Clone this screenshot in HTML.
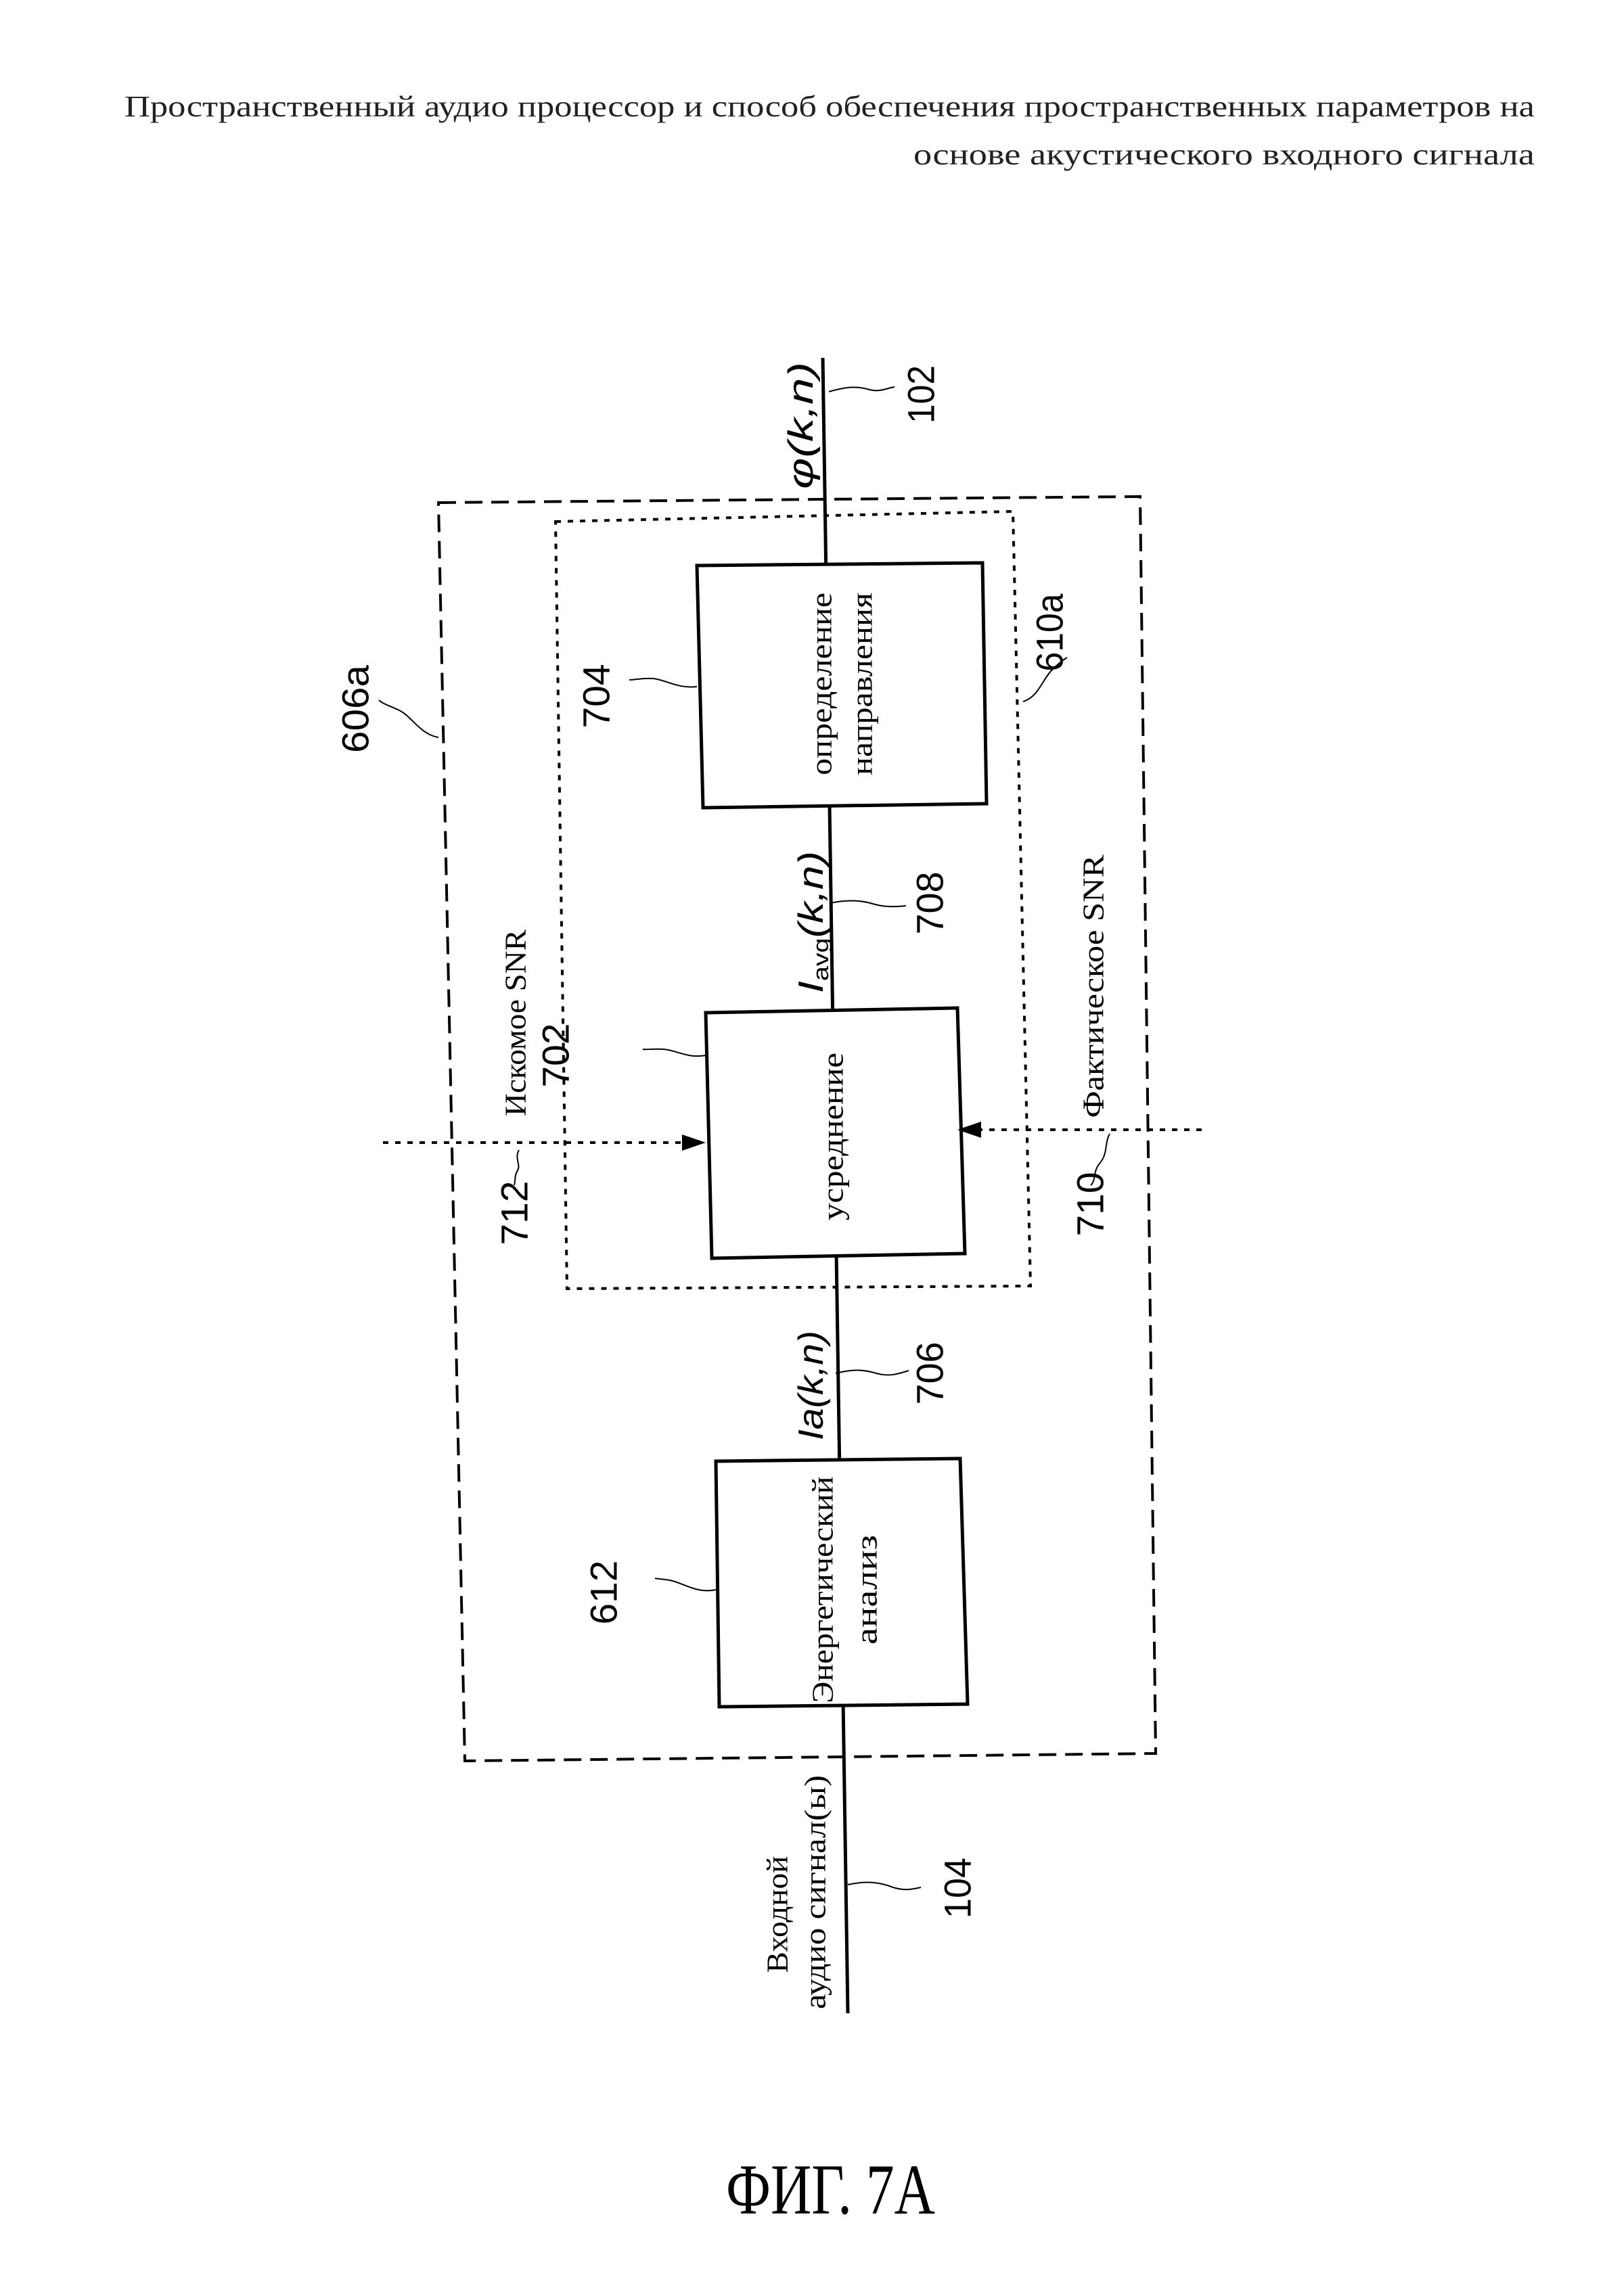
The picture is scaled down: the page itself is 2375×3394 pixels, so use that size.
<!DOCTYPE html>
<html><head><meta charset="utf-8"><style>
html,body{margin:0;padding:0;background:#fff;}
svg{display:block;}
.s{font-family:"Liberation Serif","DejaVu Serif",serif;}
.n{font-family:"Liberation Sans","DejaVu Sans",sans-serif;}
</style></head><body>
<svg width="2375" height="3394" viewBox="0 0 2375 3394" xmlns="http://www.w3.org/2000/svg">
<rect width="2375" height="3394" fill="#fff"/>
<!-- header -->
<text class="s" x="184" y="172" font-size="44" fill="#222" textLength="2084" lengthAdjust="spacingAndGlyphs">Пространственный аудио процессор и способ обеспечения пространственных параметров на</text>
<text class="s" x="1350" y="243" font-size="44" fill="#222" textLength="918" lengthAdjust="spacingAndGlyphs">основе акустического входного сигнала</text>

<!-- main line -->
<line x1="1216" y1="529" x2="1253" y2="2976" stroke="#000" stroke-width="5"/>

<!-- outer dashed box -->
<polygon points="648,743 1685,734 1708,2592 687,2603" fill="none" stroke="#000" stroke-width="4" stroke-dasharray="26,13"/>
<!-- inner dotted box -->
<polygon points="821,771 1497,756 1523,1901 838,1905" fill="none" stroke="#000" stroke-width="4" stroke-dasharray="8,10"/>

<!-- blocks -->
<polygon points="1030,836 1452,832 1458,1188 1039,1194" fill="#fff" stroke="#000" stroke-width="5"/>
<polygon points="1043,1497 1415,1490 1426,1853 1052,1860" fill="#fff" stroke="#000" stroke-width="5"/>
<polygon points="1058,2160 1419,2156 1430,2519 1063,2523" fill="#fff" stroke="#000" stroke-width="5"/>

<!-- dotted input arrows -->
<line x1="566" y1="1689" x2="1010" y2="1689" stroke="#000" stroke-width="4" stroke-dasharray="8,10"/>
<polygon points="1043,1689 1008,1677 1008,1701" fill="#000"/>
<line x1="1776" y1="1670" x2="1448" y2="1670" stroke="#000" stroke-width="4" stroke-dasharray="8,10"/>
<polygon points="1415,1670 1450,1658 1450,1682" fill="#000"/>

<!-- leader squiggles -->
<g fill="none" stroke="#000" stroke-width="2">
<path d="M648,1090 C620,1085 610,1060 590,1050 C575,1043 565,1040 560,1035"/>
<path d="M1030,1015 C1000,1018 985,1005 965,1003 C950,1002 940,1005 930,1005"/>
<path d="M1512,1037 C1535,1030 1540,1005 1555,990 C1565,980 1572,975 1577,972"/>
<path d="M1225,579 C1250,572 1265,570 1285,576 C1300,580 1310,574 1322,572"/>
<path d="M1227,1335 C1250,1330 1270,1330 1290,1336 C1310,1342 1325,1340 1339,1339"/>
<path d="M1043,1560 C1015,1565 1000,1552 980,1551 C965,1550 955,1552 950,1551"/>
<path d="M767,1700 C760,1712 770,1722 765,1730 C760,1738 762,1745 760,1752"/>
<path d="M1640,1676 C1632,1690 1638,1705 1625,1720 C1615,1732 1620,1745 1612,1752"/>
<path d="M1235,2030 C1260,2024 1275,2024 1295,2030 C1315,2036 1330,2030 1343,2026"/>
<path d="M1058,2350 C1030,2356 1010,2340 990,2336 C980,2334 972,2334 968,2333"/>
<path d="M1253,2786 C1280,2780 1300,2782 1320,2790 C1340,2796 1350,2792 1361,2790"/>
</g>

<!-- rotated texts -->
<g dominant-baseline="central" text-anchor="middle" fill="#000">
<text class="s" font-size="44" transform="translate(762,1512) rotate(-90)" textLength="276" lengthAdjust="spacingAndGlyphs">Искомое SNR</text>
<text class="s" font-size="44" transform="translate(1616,1458) rotate(-90)" textLength="389" lengthAdjust="spacingAndGlyphs">Фактическое SNR</text>
<text class="s" font-size="44" transform="translate(1214,1011) rotate(-90)" textLength="270" lengthAdjust="spacingAndGlyphs">определение</text>
<text class="s" font-size="44" transform="translate(1274,1011) rotate(-90)" textLength="270" lengthAdjust="spacingAndGlyphs">направления</text>
<text class="s" font-size="44" transform="translate(1231,1680) rotate(-90)" textLength="248" lengthAdjust="spacingAndGlyphs">усреднение</text>
<text class="s" font-size="44" transform="translate(1216,2350) rotate(-90)" textLength="335" lengthAdjust="spacingAndGlyphs">Энергетический</text>
<text class="s" font-size="44" transform="translate(1281,2350) rotate(-90)" textLength="162" lengthAdjust="spacingAndGlyphs">анализ</text>
<text class="s" font-size="44" transform="translate(1149,2830) rotate(-90)" textLength="173" lengthAdjust="spacingAndGlyphs">Входной</text>
<text class="s" font-size="44" transform="translate(1205,2797) rotate(-90)" textLength="346" lengthAdjust="spacingAndGlyphs">аудио сигнал(ы)</text>

<text class="n" font-size="52" font-style="italic" transform="translate(1184,629) rotate(-90)" textLength="188" lengthAdjust="spacingAndGlyphs">φ(k,n)</text>
<text class="n" font-size="52" font-style="italic" transform="translate(1199,1363) rotate(-90)" textLength="210" lengthAdjust="spacingAndGlyphs">I<tspan font-size="32" font-style="normal" dy="14">avg</tspan><tspan dy="-14">(k,n)</tspan></text>
<text class="n" font-size="52" font-style="italic" transform="translate(1199,2048) rotate(-90)" textLength="162" lengthAdjust="spacingAndGlyphs">Ia(k,n)</text>

<text class="n" font-size="56" transform="translate(1361,583) rotate(-90)" textLength="86" lengthAdjust="spacingAndGlyphs">102</text>
<text class="n" font-size="56" transform="translate(1374,1335) rotate(-90)" textLength="93" lengthAdjust="spacingAndGlyphs">708</text>
<text class="n" font-size="56" transform="translate(1374,2030) rotate(-90)" textLength="93" lengthAdjust="spacingAndGlyphs">706</text>
<text class="n" font-size="56" transform="translate(1415,2791) rotate(-90)" textLength="90" lengthAdjust="spacingAndGlyphs">104</text>
<text class="n" font-size="56" transform="translate(821,1560) rotate(-90)" textLength="95" lengthAdjust="spacingAndGlyphs">702</text>
<text class="n" font-size="56" transform="translate(881,1029) rotate(-90)" textLength="95" lengthAdjust="spacingAndGlyphs">704</text>
<text class="n" font-size="56" transform="translate(760,1793) rotate(-90)" textLength="95" lengthAdjust="spacingAndGlyphs">712</text>
<text class="n" font-size="56" transform="translate(1611,1780) rotate(-90)" textLength="95" lengthAdjust="spacingAndGlyphs">710</text>
<text class="n" font-size="56" transform="translate(525,1048) rotate(-90)" textLength="130" lengthAdjust="spacingAndGlyphs">606a</text>
<text class="n" font-size="56" transform="translate(1551,935) rotate(-90)" textLength="115" lengthAdjust="spacingAndGlyphs">610a</text>
<text class="n" font-size="56" transform="translate(892,2354) rotate(-90)" textLength="95" lengthAdjust="spacingAndGlyphs">612</text>
</g>

<text class="s" x="1073" y="3272" font-size="106" fill="#000" textLength="309" lengthAdjust="spacingAndGlyphs">ФИГ. 7А</text>
</svg>
</body></html>
